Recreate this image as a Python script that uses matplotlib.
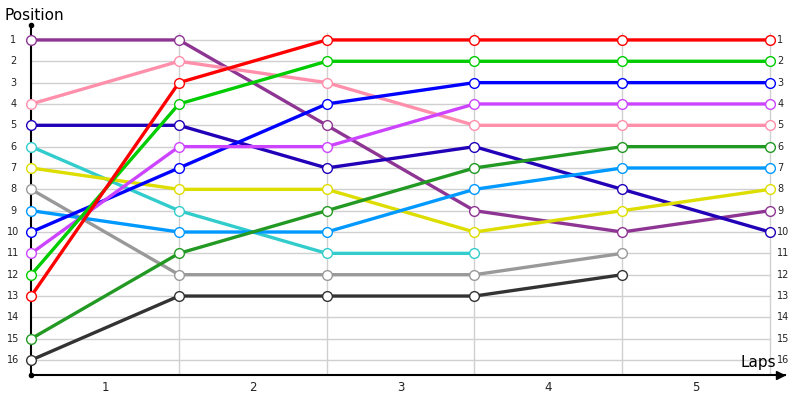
import matplotlib
matplotlib.use("Agg")
import matplotlib.pyplot as plt

# positions after each lap (index 0 = start grid)
purple = [1, 1, 5, 9, 10, 9]
pink = [4, 2, 3, 5, 5, 5]
dark_blue = [5, 5, 7, 6, 8, 10]
cyan = [6, 9, 11, 11]
yellow = [7, 8, 8, 10, 9, 8]
gray = [8, 12, 12, 12, 11]
light_blue = [9, 10, 10, 8, 7, 7]
blue = [10, 7, 4, 3, 3, 3]
magenta = [11, 6, 6, 4, 4, 4]
green = [12, 4, 2, 2, 2, 2]
red = [13, 3, 1, 1, 1, 1]
dark_green = [15, 11, 9, 7, 6, 6]
black = [16, 13, 13, 13, 12]

series = [
    (purple, "#8E3593"),
    (pink, "#FF8FAB"),
    (dark_blue, "#2200B8"),
    (cyan, "#33CCCC"),
    (yellow, "#DDDD00"),
    (gray, "#999999"),
    (light_blue, "#0099FF"),
    (blue, "#0000FF"),
    (magenta, "#CC44FF"),
    (green, "#00CC00"),
    (red, "#FF0000"),
    (dark_green, "#229922"),
    (black, "#333333"),
]

positions = list(range(1, 17))
laps = [1, 2, 3, 4, 5]

fig = plt.figure(figsize=(8, 4), dpi=100)
ax = fig.add_axes([0.039, 0.0625, 0.942, 0.875])
ax.set_xlim(0, 5.1)
ax.set_ylim(16.7, 0.3)

# grid
for p in positions:
    ax.plot([0, 5], [p, p], color="#D0D0D0", lw=1, zorder=1)
for l in laps:
    ax.plot([l, l], [0.67, 16.7], color="#D0D0D0", lw=1, zorder=1)

for vals, col in series:
    xs = list(range(len(vals)))
    ax.plot(xs, vals, color=col, lw=2.4, zorder=3, solid_capstyle="butt",
            marker="o", markersize=7, markerfacecolor="white",
            markeredgecolor=col, markeredgewidth=1.0, clip_on=False)

for s in ["top", "right"]:
    ax.spines[s].set_visible(False)
for s in ["left", "bottom"]:
    ax.spines[s].set_color("black")
    ax.spines[s].set_linewidth(1.5)
    ax.spines[s].set_zorder(2)
ax.set_xticks([])
ax.set_yticks([])

ax.plot([0], [0.3], marker="o", markersize=3, color="black", clip_on=False)
ax.plot([0], [16.7], marker="o", markersize=3, color="black", clip_on=False)
ax.plot([5.07], [16.7], marker=">", markersize=6, color="black", clip_on=False)

for p in positions:
    ax.text(-0.12, p, str(p), ha="center", va="center", fontsize=7, color="#222222")
    ax.text(5.05, p, str(p), ha="left", va="center", fontsize=7, color="#222222")
for l in laps:
    ax.text(l - 0.5, 17.3, str(l), ha="center", va="center", fontsize=8.5, color="#222222")

fig.text(0.006, 0.962, "Position", ha="left", va="center", fontsize=11)
ax.text(4.92, 16.1, "Laps", ha="center", va="center", fontsize=11)

fig.savefig("out.png", dpi=100)
